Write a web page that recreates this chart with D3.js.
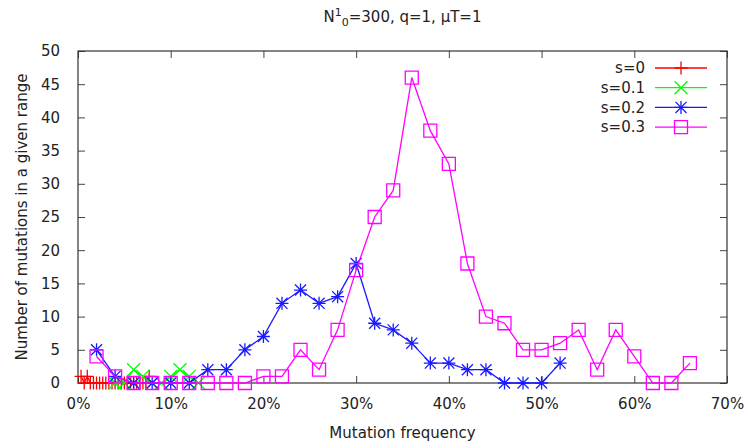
<!DOCTYPE html>
<html lang="en">
	<head>
	<meta charset="UTF-8">
	<meta name="viewport" content="width=device-width, initial-scale=1.0">
		<title>Mutation frequency</title>
		<style>
			body { margin: 0; background: #fff; }
			text { font-family: 'DejaVu Sans', sans-serif; fill: #222; }
		</style>
	</head>
	<body>
		<svg id='graph'></svg>

		<script src='https://d3js.org/d3.v7.min.js'></script>
		<script>
			// frequency (%) and counts
			const s0Freq = [0.33, 0.67, 1, 1.33, 1.67, 2, 2.33, 2.67, 3, 3.33, 3.67, 4, 4.33, 4.67, 5, 5.33, 5.67, 6, 6.33, 6.67, 7, 7.33, 7.67];
			const s0Count = [1, 0, 1, 0, 0, 0, 0, 0, 0, 0, 0, 0, 0, 0, 0, 0, 0, 0, 0, 0, 0, 0, 1];
			const s1Freq = [4, 5, 6, 7, 8, 9, 10, 11, 12, 13];
			const s1Count = [0, 0, 2, 1, 0, 0, 1, 2, 1, 0];
			const s2Freq = [2, 4, 6, 8, 10, 12, 14, 16, 18, 20, 22, 24, 26, 28, 30, 32, 34, 36, 38, 40, 42, 44, 46, 48, 50, 52];
			const s2Count = [5, 1, 0, 0, 0, 0, 2, 2, 5, 7, 12, 14, 12, 13, 18, 9, 8, 6, 3, 3, 2, 2, 0, 0, 0, 3];
			const s3Freq = [2, 4, 6, 8, 10, 12, 14, 16, 18, 20, 22, 24, 26, 28, 30, 32, 34, 36, 38, 40, 42, 44, 46, 48, 50, 52, 54, 56, 58, 60, 62, 64, 66];
			const s3Count = [4, 1, 0, 0, 0, 0, 0, 0, 0, 1, 1, 5, 2, 8, 17, 25, 29, 46, 38, 33, 18, 10, 9, 5, 5, 6, 8, 2, 8, 4, 0, 0, 3];

			const seriesNames = ['s=0', 's=0.1', 's=0.2', 's=0.3'];
			const seriesColors = ['#ff0000', '#00ff00', '#1a1aff', '#ff00ff'];
			const seriesMarks = ['plus', 'cross', 'star', 'square'];
			const xTicks = [0, 10, 20, 30, 40, 50, 60, 70];
			const yTicks = [0, 5, 10, 15, 20, 25, 30, 35, 40, 45, 50];

			const series = [
				{ freq: s0Freq, count: s0Count },
				{ freq: s1Freq, count: s1Count },
				{ freq: s2Freq, count: s2Count },
				{ freq: s3Freq, count: s3Count }
			].map((s, i) => ({
				name: seriesNames[i],
				color: seriesColors[i],
				mark: seriesMarks[i],
				points: s.freq.map((f, j) => ({ x: f, y: s.count[j] }))
			}));

			const width = 747;
			const height = 444;
			const margin = { top: 51, right: 20, bottom: 61, left: 78 };
			const graphWidth = width - margin.left - margin.right;
			const graphHeight = height - margin.top - margin.bottom;

			const svg = d3.select('#graph')
				.attr('width', width)
				.attr('height', height);

			const graph = svg.append('g')
				.attr('transform', `translate(${margin.left}, ${margin.top})`);

			const xScale = d3.scaleLinear().domain([0, 70]).range([0, graphWidth]);
			const yScale = d3.scaleLinear().domain([0, 50]).range([graphHeight, 0]);

			// axes with inward ticks, mirrored on top and right
			const tickLen = 7;
			const styleAxis = g => {
				g.select('.domain').remove();
				g.selectAll('line').attr('stroke', '#444');
				g.selectAll('text').style('font-size', '15px').attr('fill', '#222');
			};

			graph.append('g')
				.attr('transform', `translate(0, ${graphHeight})`)
				.call(d3.axisBottom(xScale).tickValues(xTicks).tickFormat(d => d + '%').tickSizeInner(-tickLen).tickPadding(15))
				.call(styleAxis);

			graph.append('g')
				.call(d3.axisTop(xScale).tickValues(xTicks).tickFormat('').tickSizeInner(-tickLen))
				.call(styleAxis);

			graph.append('g')
				.call(d3.axisLeft(yScale).tickValues(yTicks).tickSizeInner(-tickLen).tickPadding(18))
				.call(styleAxis);

			graph.append('g')
				.attr('transform', `translate(${graphWidth}, 0)`)
				.call(d3.axisRight(yScale).tickValues(yTicks).tickFormat('').tickSizeInner(-tickLen))
				.call(styleAxis);

			graph.append('rect')
				.attr('width', graphWidth)
				.attr('height', graphHeight)
				.attr('fill', 'none')
				.attr('stroke', '#333')
				.attr('stroke-width', 1.2);

			const markPath = (mark, r) => {
				if (mark === 'plus') return `M${-r},0H${r}M0,${-r}V${r}`;
				if (mark === 'cross') return `M${-r},${-r}L${r},${r}M${-r},${r}L${r},${-r}`;
				if (mark === 'star') return `M${-r},0H${r}M0,${-r}V${r}M${-r * 0.85},${-r * 0.85}L${r * 0.85},${r * 0.85}M${-r * 0.85},${r * 0.85}L${r * 0.85},${-r * 0.85}`;
				return `M${-r},${-r}H${r}V${r}H${-r}Z`;
			};

			const line = d3.line()
				.x(d => xScale(d.x))
				.y(d => yScale(d.y));

			series.forEach(s => {
				const g = graph.append('g');
				g.append('path')
					.datum(s.points)
					.attr('d', line)
					.attr('fill', 'none')
					.attr('stroke', s.color)
					.attr('stroke-width', 1.3);
				g.selectAll('.mark')
					.data(s.points)
					.enter().append('path')
					.attr('class', 'mark')
					.attr('transform', d => `translate(${xScale(d.x)}, ${yScale(d.y)})`)
					.attr('d', markPath(s.mark, 6.5))
					.attr('fill', 'none')
					.attr('stroke', s.color)
					.attr('stroke-width', 1.3);
			});

			// legend
			const legend = graph.append('g')
				.attr('transform', `translate(${graphWidth - 72}, 17)`);
			series.forEach((s, i) => {
				const row = legend.append('g')
					.attr('transform', `translate(0, ${i * 19.7})`);
				row.append('text')
					.attr('x', -10)
					.attr('dy', '0.35em')
					.attr('text-anchor', 'end')
					.style('font-size', '15px')
					.text(s.name);
				row.append('line')
					.attr('x1', 0).attr('x2', 52)
					.attr('stroke', s.color)
					.attr('stroke-width', 1.3);
				row.append('path')
					.attr('transform', 'translate(26, 0)')
					.attr('d', markPath(s.mark, 6.5))
					.attr('fill', 'none')
					.attr('stroke', s.color)
					.attr('stroke-width', 1.3);
			});

			// title
			const title = svg.append('text')
				.attr('x', margin.left + graphWidth / 2)
				.attr('y', 22)
				.attr('text-anchor', 'middle')
				.style('font-size', '15px');
			title.append('tspan').text('N');
			title.append('tspan').attr('dy', -6).style('font-size', '11px').text('1');
			title.append('tspan').attr('dy', 10).style('font-size', '11px').text('0');
			title.append('tspan').attr('dy', -4).text('=300, q=1, \u03bcT=1');

			svg.append('text')
				.attr('x', margin.left + graphWidth / 2)
				.attr('y', 438)
				.attr('text-anchor', 'middle')
				.style('font-size', '15px')
				.text('Mutation frequency');

			svg.append('text')
				.attr('transform', `translate(22, ${margin.top + graphHeight / 2}) rotate(-90)`)
				.attr('dy', '0.35em')
				.attr('text-anchor', 'middle')
				.style('font-size', '15px')
				.text('Number of mutations in a given range');
		</script>
	</body>
</html>
